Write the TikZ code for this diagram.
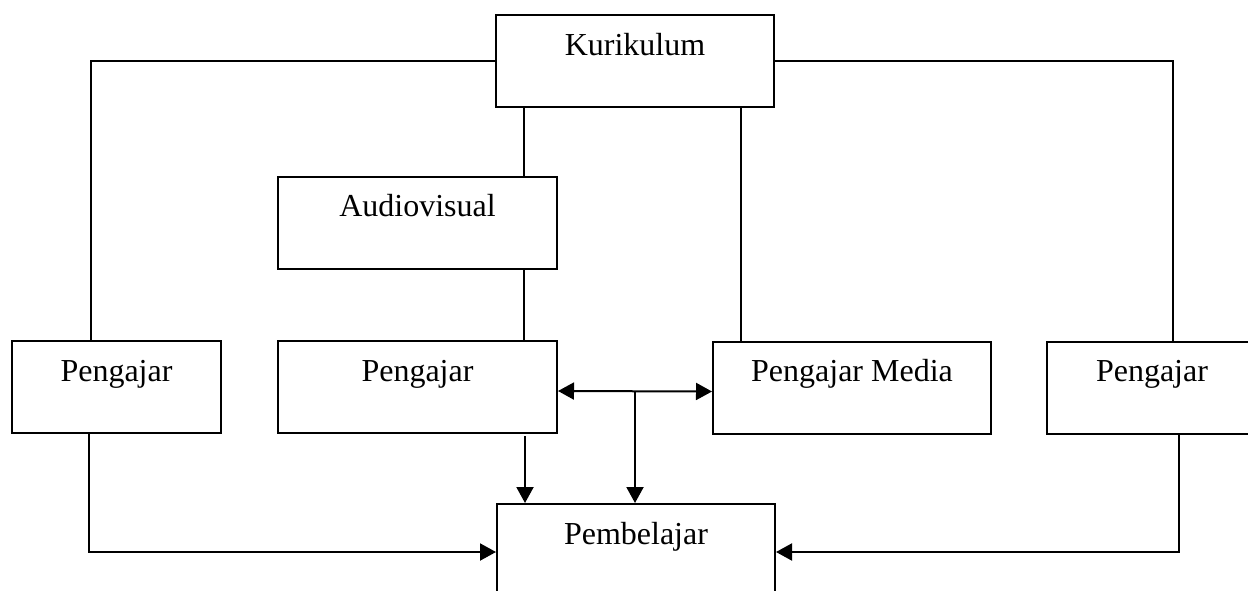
\documentclass[tikz,border=0pt]{standalone}
\usepackage{fontspec}
\setmainfont{Liberation Serif}
\usetikzlibrary{shapes,arrows.meta}

\begin{document}
\begin{tikzpicture}[x=0.5pt,y=-0.5pt,
    box/.style ={rectangle, draw=black, line width=1pt, fill=white,
      inner sep=0pt, text height=20pt, text depth=26pt,
      font=\fontsize{16}{19}\selectfont},
    line/.style ={draw, line width=1pt, -{Triangle[length=8pt,width=8.5pt]}},
    plain/.style ={draw, line width=1pt}]
    \useasboundingbox (0,0) rectangle (1248,590);
    % placing the boxes
    \node [box, minimum width=139pt] (kurikulum) at (635,61) {Kurikulum};
    \node [box, minimum width=139.5pt] (audiovisual) at (417.5,222.5) {Audiovisual};
    \node [box, minimum width=104.5pt] (pengajar_left) at (116.5,387) {Pengajar};
    \node [box, minimum width=139.5pt] (pengajar_mid) at (417.5,387) {Pengajar};
    \node [box, minimum width=139pt] (pengajar_media) at (852,387.5) {Pengajar Media};
    \node [box, minimum width=105pt] (pengajar_right) at (1152,387.5) {Pengajar};
    \node [box, minimum width=139pt] (pembelajar) at (636,550) {Pembelajar};
    % connecting nodes with paths
    \begin{scope}[every path/.style=plain]
      \path (kurikulum.west) -| ([xshift=-12.75pt]pengajar_left.north);
      \path (kurikulum.east) -| ([xshift=10.5pt]pengajar_right.north);
      \path ([xshift=53.25pt]audiovisual.north) -- ([xshift=53.25pt]audiovisual.north |- kurikulum.south);
      \path ([xshift=53.25pt]audiovisual.south) -- ([xshift=53.25pt]pengajar_mid.north);
      \path ([xshift=-55.5pt]pengajar_media.north) -- ([xshift=-55.5pt]pengajar_media.north |- kurikulum.south);
    \end{scope}
    \begin{scope}[every path/.style=line]
      \path [{Triangle[length=8pt,width=8.5pt]}-{Triangle[length=8pt,width=8.5pt]}]
        ([yshift=-2pt]pengajar_mid.east) -- ([yshift=-2pt]pengajar_media.west) coordinate [midway] (phoney1);
      \path (phoney1) -- (phoney1 |- pembelajar.north);
      \path ([xshift=53.75pt,yshift=-1pt]pengajar_mid.south) -- ([xshift=53.75pt]pengajar_mid.south |- pembelajar.north);
      \path ([xshift=-13.75pt]pengajar_left.south) |- ([yshift=-1pt]pembelajar.west);
      \path ([xshift=13.5pt]pengajar_right.south) |- ([yshift=-1pt]pembelajar.east);
    \end{scope}
  \end{tikzpicture}
\end{document}
